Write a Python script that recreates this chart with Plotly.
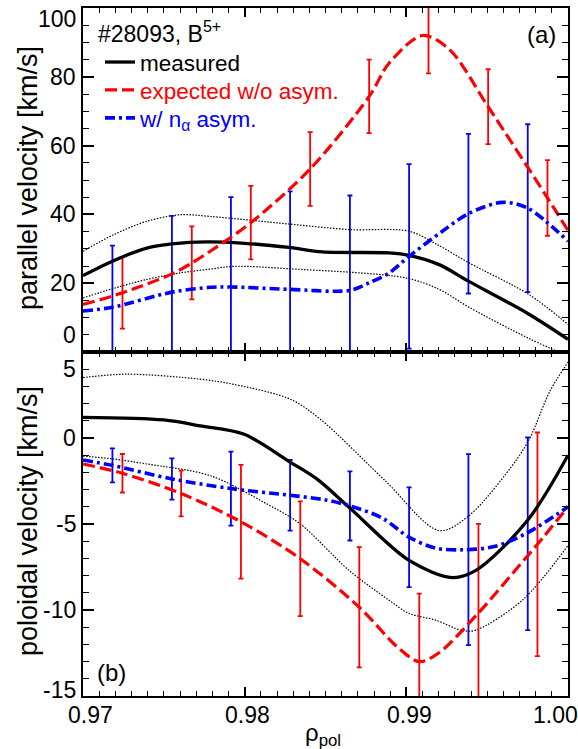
import plotly.graph_objects as go

# ---------------- data: panel (a) parallel velocity ----------------
meas_a_rho = [0.9700, 0.97182, 0.97395, 0.9755, 0.97766, 0.9800, 0.98275, 0.98481, 0.98894, 0.99017, 0.99203, 0.99384, 0.99751, 1.0000]
meas_a_v = [22.2, 26.4, 30.2, 31.4, 32.0, 31.6, 30.4, 29.1, 28.8, 28.1, 25.4, 20.6, 11.2, 3.7]
meas_a_up_rho = [0.9700, 0.97189, 0.97395, 0.97601, 0.97787, 0.98275, 0.98646, 0.99017, 0.9920, 0.99388, 0.99759, 1.0000]
meas_a_up_v = [29.3, 34.1, 38.0, 39.9, 39.4, 37.2, 35.6, 35.1, 31.0, 25.9, 16.7, 8.0]
meas_a_lo_rho = [0.9700, 0.97189, 0.97395, 0.97601, 0.97787, 0.97931, 0.98275, 0.9900, 0.99203, 0.99388, 0.99751, 0.99944, 1.0000]
meas_a_lo_v = [15.7, 18.5, 21.1, 23.0, 24.1, 24.9, 24.2, 21.5, 18.2, 13.0, 4.1, 0.0, -1.0]
exp_a_rho = [0.9700, 0.97244, 0.97550, 0.97673, 0.97787, 0.98038, 0.98405, 0.98770, 0.98894, 0.99100, 0.99265, 0.99506, 0.99873, 1.0000]
exp_a_v = [13.8, 17.2, 22.7, 25.9, 29.3, 37.6, 53.2, 74.3, 84.0, 92.0, 88.0, 71.3, 44.8, 35.3]
asym_a_rho = [0.9700, 0.97182, 0.97550, 0.97787, 0.97915, 0.98281, 0.98651, 0.98770, 0.98894, 0.99017, 0.99223, 0.99384, 0.99594, 0.99751, 1.0000]
asym_a_v = [11.9, 13.0, 17.4, 18.8, 18.9, 18.2, 17.9, 20.1, 23.0, 27.8, 35.1, 40.2, 43.5, 41.8, 32.2]

# error bars (a)
bar_blue_rho = [0.97182, 0.97550, 0.97915, 0.98281, 0.98651, 0.99017, 0.99384, 0.99751]
bar_blue_a_v = [13.0, 17.4, 18.9, 18.2, 17.9, 27.8, 40.2, 41.8]
bar_blue_a_err = [17.9, 22.2, 26.1, 28.5, 27.6, 26.8, 23.2, 24.4]
bar_red_a_rho = [0.97244, 0.97673, 0.98038, 0.98405, 0.98770, 0.99137, 0.99506, 0.99873]
bar_red_a_v = [17.2, 25.9, 37.6, 53.2, 74.3, 91.9, 71.3, 44.8]
bar_red_a_err = [10.4, 10.6, 10.7, 10.7, 10.7, 10.9, 10.9, 11.0]

# ---------------- data: panel (b) poloidal velocity ----------------
meas_b_rho = [0.9700, 0.9750, 0.97725, 0.97993, 0.98281, 0.98446, 0.98646, 0.99017, 0.99285, 0.99430, 0.99749, 1.0000]
meas_b_v = [1.2, 1.05, 0.71, 0.23, -1.4, -2.38, -4.03, -7.12, -8.12, -7.70, -4.80, -1.0]
meas_b_up_rho = [0.9700, 0.97271, 0.97725, 0.97931, 0.98281, 0.98467, 0.98869, 0.99203, 0.99388, 0.99677, 0.99766, 0.99889, 1.0000]
meas_b_up_v = [3.51, 3.71, 3.42, 3.12, 2.26, 1.1, -2.48, -5.38, -4.51, -1.32, 0.03, 2.74, 4.4]
meas_b_lo_rho = [0.9700, 0.97187, 0.97395, 0.97787, 0.98137, 0.98343, 0.98646, 0.98893, 0.99017, 0.99182, 0.99347, 0.99430, 0.99718, 1.0000]
meas_b_lo_v = [-1.05, -1.22, -1.51, -2.19, -3.83, -4.99, -7.7, -9.43, -10.2, -10.59, -11.2, -11.17, -9.43, -6.25]
exp_b_rho = [0.9700, 0.97244, 0.97607, 0.97977, 0.98344, 0.98709, 0.9895, 0.99080, 0.9920, 0.99446, 0.9970, 0.99811, 1.0000]
exp_b_v = [-1.51, -2.05, -3.23, -4.87, -7.02, -9.84, -12.2, -13.0, -12.5, -10.17, -7.4, -6.18, -4.0]
asym_b_rho = [0.9700, 0.97182, 0.97550, 0.97915, 0.98281, 0.9850, 0.98651, 0.9885, 0.99017, 0.9918, 0.9935, 0.9955, 0.99751, 1.0000]
asym_b_v = [-1.28, -1.59, -2.38, -2.94, -3.33, -3.6, -3.95, -4.65, -5.77, -6.4, -6.5, -6.3, -5.5, -4.0]

# error bars (b)
bar_blue_b_v = [-1.59, -2.38, -2.94, -3.33, -3.95, -5.77, -6.49, -5.57]
bar_blue_b_err = [0.99, 1.2, 2.15, 2.05, 2.01, 2.9, 5.55, 5.6]
bar_red_b_rho = [0.97244, 0.97607, 0.97977, 0.98344, 0.98709, 0.99080, 0.99446, 0.99811]
bar_red_b_v = [-2.05, -3.23, -4.87, -7.02, -9.84, -13.0, -10.17, -6.18]
bar_red_b_err = [1.12, 1.33, 3.31, 3.34, 3.5, 3.95, 5.18, 6.5]

# ---------------- ticks / text ----------------
x_tickvals = [0.97, 0.98, 0.99, 1.00]
x_ticktext = ["0.97", "0.98", "0.99", "1.00"]
ya_tickvals = [0, 20, 40, 60, 80, 100]
ya_ticktext = ["0", "20", "40", "60", "80", "100"]
yb_tickvals = [-15, -10, -5, 0, 5]
yb_ticktext = ["-15", "-10", "-5", "0", "5"]
legend_names = ["measured", "expected w/o asym.", "w/ n<sub>α</sub> asym."]

FONT = "Liberation Sans, Arial, Helvetica, sans-serif"
RED = "#ff0000"
BLUE = "#0000ff"

fig = go.Figure()

def line(x, y, xa, ya, color, width, dash, name=None, legend=None, shape="spline"):
    fig.add_trace(go.Scatter(
        x=x, y=y, xaxis=xa, yaxis=ya, mode="lines",
        line=dict(color=color, width=width, dash=dash, shape=shape, smoothing=0.9),
        name=name, showlegend=legend is not None, legend=legend or "legend",
        hoverinfo="skip"))

def bars(x, y, err, xa, ya, color):
    fig.add_trace(go.Scatter(
        x=x, y=y, xaxis=xa, yaxis=ya, mode="markers",
        marker=dict(size=1, color=color),
        error_y=dict(type="data", array=err, visible=True, color=color, thickness=1.8, width=2.5),
        showlegend=False, hoverinfo="skip"))

DOT = "1.5px,1.5px"
RDASH = "12px,5px"
BDASHDOT = "10px,4px,3px,4px"

# panel a
line(meas_a_up_rho, meas_a_up_v, "x", "y", "black", 1.2, DOT)
line(meas_a_lo_rho, meas_a_lo_v, "x", "y", "black", 1.2, DOT)
bars(bar_blue_rho, bar_blue_a_v, bar_blue_a_err, "x", "y", BLUE)
bars(bar_red_a_rho, bar_red_a_v, bar_red_a_err, "x", "y", RED)
line(meas_a_rho, meas_a_v, "x", "y", "black", 3.3, "solid",
     name=legend_names[0], legend="legend")
line(exp_a_rho, exp_a_v, "x", "y", RED, 3.2, RDASH,
     name='<span style="color:#ff0000">' + legend_names[1] + '</span>', legend="legend2")
line(asym_a_rho, asym_a_v, "x", "y", BLUE, 3.6, BDASHDOT,
     name='<span style="color:#0000ff">' + legend_names[2] + '</span>', legend="legend3")

# panel b
line(meas_b_up_rho, meas_b_up_v, "x2", "y2", "black", 1.2, DOT)
line(meas_b_lo_rho, meas_b_lo_v, "x2", "y2", "black", 1.2, DOT)
bars(bar_blue_rho, bar_blue_b_v, bar_blue_b_err, "x2", "y2", BLUE)
bars(bar_red_b_rho, bar_red_b_v, bar_red_b_err, "x2", "y2", RED)
line(meas_b_rho, meas_b_v, "x2", "y2", "black", 3.3, "solid")
line(exp_b_rho, exp_b_v, "x2", "y2", RED, 3.2, RDASH)
line(asym_b_rho, asym_b_v, "x2", "y2", BLUE, 3.6, BDASHDOT)

xcommon = dict(range=[0.97, 1.0], showline=True, linecolor="black", linewidth=2,
               mirror="ticks", ticks="inside", ticklen=9, tickwidth=1.5, tickcolor="black",
               tickmode="linear", tick0=x_tickvals[0], dtick=0.01, showticklabels=False,
               showgrid=False, zeroline=False,
               minor=dict(tickmode="linear", tick0=0.97, dtick=0.001, ticks="inside",
                          ticklen=5, tickwidth=1.3, tickcolor="black", showgrid=False))
ycommon = dict(showline=True, linecolor="black", linewidth=2, mirror="ticks",
               ticks="inside", ticklen=11, tickwidth=1.5, tickcolor="black",
               tickmode="linear", showticklabels=False, showgrid=False, zeroline=False)

LEGFONT = dict(family=FONT, size=22.5, color="black")
legcommon = dict(x=0.035, xanchor="left", yanchor="top", bgcolor="rgba(0,0,0,0)",
                 font=LEGFONT, itemwidth=30, tracegroupgap=0)

fig.update_layout(
    width=578, height=749,
    margin=dict(l=83, r=10, t=6, b=53),
    paper_bgcolor="white", plot_bgcolor="white",
    font=dict(family=FONT, color="black"),
    xaxis=dict(**xcommon, anchor="y"),
    xaxis2=dict(**xcommon, anchor="y2"),
    yaxis=dict(**ycommon, range=[0, 100], tick0=0, dtick=20, domain=[0.5, 1.0], anchor="x",
               minor=dict(tickmode="linear", tick0=0, dtick=5, ticks="inside", ticklen=6,
                          tickwidth=1.3, tickcolor="black", showgrid=False)),
    yaxis2=dict(**ycommon, range=[-15, 5], tick0=0, dtick=5, domain=[0.0, 0.5], anchor="x2",
                minor=dict(tickmode="linear", tick0=0, dtick=1, ticks="inside", ticklen=6,
                           tickwidth=1.3, tickcolor="black", showgrid=False)),
    legend=dict(**legcommon, y=0.9522),
    legend2=dict(**legcommon, y=0.9116),
    legend3=dict(**legcommon, y=0.8710),
    showlegend=True,
)

ann = []
TICKFONT = dict(family=FONT, size=23, color="black")
for v, t in zip(ya_tickvals, ya_ticktext):
    ys = 0
    if v == ya_tickvals[-1]:
        ys = -11
    elif v == ya_tickvals[0]:
        ys = 17
    ann.append(dict(x=0, xref="paper", y=v, yref="y", text=t, showarrow=False,
                    xanchor="right", yanchor="middle", xshift=-5, yshift=ys, font=TICKFONT))
for v, t in zip(yb_tickvals, yb_ticktext):
    ys = 0
    if v == yb_tickvals[-1]:
        ys = -17
    elif v == yb_tickvals[0]:
        ys = 6
    ann.append(dict(x=0, xref="paper", y=v, yref="y2", text=t, showarrow=False,
                    xanchor="right", yanchor="middle", xshift=-5, yshift=ys, font=TICKFONT))
for i, (v, t) in enumerate(zip(x_tickvals, x_ticktext)):
    xs = 3
    if i == 0:
        xs = 7
    elif i == len(x_tickvals) - 1:
        xs = -13
    ann.append(dict(x=v, xref="x2", y=0, yref="paper", text=t, showarrow=False,
                    xanchor="center", yanchor="middle", xshift=xs, yshift=-19, font=TICKFONT))

TITLEFONT = dict(family=FONT, size=27, color="black")
ann.append(dict(x=0, xref="paper", y=0.75, yref="paper", text="parallel velocity [km/s]",
                textangle=-90, showarrow=False, xanchor="center", yanchor="middle",
                xshift=-55, yshift=2, font=TITLEFONT))
ann.append(dict(x=0, xref="paper", y=0.25, yref="paper", text="poloidal velocity [km/s]",
                textangle=-90, showarrow=False, xanchor="center", yanchor="middle",
                xshift=-55, yshift=3, font=TITLEFONT))
ann.append(dict(x=0.5, xref="paper", y=0, yref="paper", text="ρ<sub>pol</sub>",
                showarrow=False, xanchor="center", yanchor="middle", xshift=-3, yshift=-38,
                font=dict(family=FONT, size=24, color="black")))

ann.append(dict(x=0, xref="paper", y=1, yref="paper", text="#28093, B<sup>5+</sup>",
                showarrow=False, xanchor="left", yanchor="middle", xshift=13, yshift=-24,
                font=dict(family=FONT, size=23, color="black")))
ann.append(dict(x=1, xref="paper", y=1, yref="paper", text="(a)",
                showarrow=False, xanchor="right", yanchor="middle", xshift=-10, yshift=-26,
                font=dict(family=FONT, size=24, color="black")))
ann.append(dict(x=0, xref="paper", y=0, yref="paper", text="(b)",
                showarrow=False, xanchor="left", yanchor="middle", xshift=12, yshift=24,
                font=dict(family=FONT, size=24, color="black")))

fig.update_layout(annotations=ann)
fig.write_html("out.html", config={"displayModeBar": False},
               post_script="document.body.style.margin='0';document.body.style.overflow='hidden';")
